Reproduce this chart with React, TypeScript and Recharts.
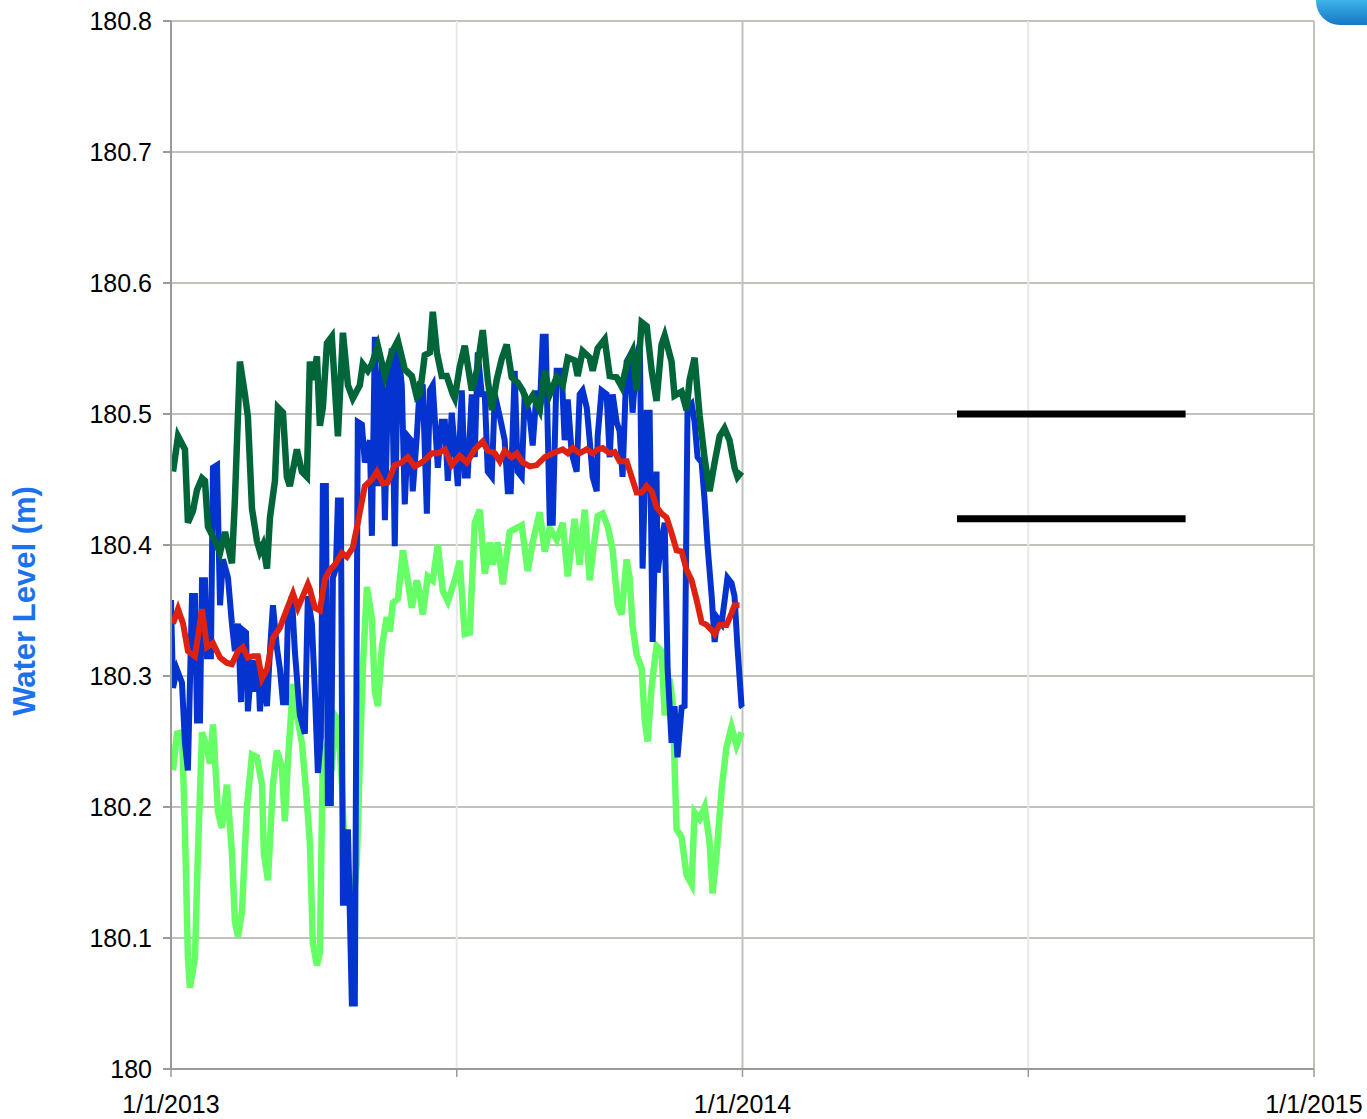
import React from "react";
import { LineChart, Line, XAxis, YAxis, CartesianGrid, ReferenceLine, Label } from "recharts";

// days since 1/1/2013, water level (m)
const dailyLevel: [number, number][] = [
  [0,180.358],[1.3,180.291],[3.8,180.305],[7.0,180.295],[8.9,180.249],[10.8,180.228],[13.4,180.361],[15.3,180.361],[16.6,180.266],[18.5,180.266],
  [19.8,180.373],[21.7,180.373],[23.0,180.315],[25.5,180.315],[26.8,180.459],[29.4,180.461],[31.3,180.354],[33.2,180.389],[36.4,180.375],[38.9,180.340],
  [40.8,180.319],[42.8,180.340],[44.7,180.280],[45.9,180.335],[47.9,180.333],[49.1,180.273],[51.7,180.312],[53.6,180.288],[55.5,180.312],[56.8,180.273],
  [58.7,180.305],[61.3,180.277],[63.2,180.319],[65.1,180.354],[67.6,180.322],[69.6,180.305],[71.5,180.280],[73.4,180.280],[74.7,180.347],[77.2,180.361],
  [79.1,180.319],[82.3,180.270],[85.5,180.256],[87.4,180.361],[90.0,180.340],[91.9,180.288],[93.8,180.226],[95.7,180.253],[97.0,180.445],[98.9,180.445],
  [100.2,180.203],[102.1,180.203],[103.4,180.375],[105.3,180.382],[106.6,180.434],[108.5,180.434],[109.8,180.127],[111.7,180.127],[113.0,180.183],[115.5,180.050],
  [117.4,180.050],[119.3,180.494],[121.9,180.492],[123.8,180.463],[127.0,180.480],[128.3,180.407],[130.2,180.559],[132.1,180.445],[134.7,180.540],[136.6,180.419],
  [138.5,180.515],[141.0,180.550],[142.9,180.399],[144.9,180.550],[147.4,180.522],[149.3,180.431],[151.2,180.483],[153.2,180.480],[154.4,180.441],[157.0,180.483],
  [158.9,180.522],[160.8,180.521],[163.4,180.424],[165.3,180.518],[167.2,180.522],[170.4,180.459],[172.9,180.494],[174.9,180.494],[176.8,180.449],[179.3,180.501],
  [183.2,180.445],[185.7,180.518],[187.6,180.453],[189.5,180.453],[192.1,180.515],[194.0,180.467],[195.9,180.547],[198.5,180.515],[200.4,180.515],[202.3,180.456],
  [204.9,180.452],[206.8,180.515],[210.0,180.498],[213.1,180.480],[215.1,180.441],[217.0,180.441],[219.5,180.533],[221.4,180.456],[224.0,180.452],[225.9,180.515],
  [229.1,180.498],[231.0,180.476],[233.6,180.518],[235.5,180.501],[237.4,180.559],[239.3,180.559],[241.9,180.417],[243.8,180.417],[246.3,180.533],[249.5,180.533],
  [251.4,180.480],[253.4,180.511],[255.9,180.470],[259.1,180.456],[261.0,180.515],[262.9,180.518],[265.5,180.505],[267.4,180.480],[269.3,180.452],[271.9,180.441],
  [272.5,180.483],[275.0,180.518],[278.2,180.515],[280.2,180.467],[282.1,180.515],[284.6,180.494],[286.5,180.487],[288.4,180.452],[291.0,180.540],[292.9,180.544],
  [294.8,180.501],[297.4,180.544],[299.4,180.553],[301.2,180.382],[303.8,180.501],[305.7,180.501],[307.6,180.326],[310.1,180.456],[310.8,180.379],[313.3,180.403],
  [315.3,180.417],[317.2,180.305],[319.7,180.249],[321.6,180.277],[323.5,180.238],[326.1,180.276],[328.0,180.277],[329.9,180.505],[332.5,180.508],[334.4,180.494],
  [336.3,180.467],[338.9,180.463],[340.8,180.434],[342.7,180.399],[345.3,180.361],[347.2,180.326],[349.1,180.344],[351.6,180.340],[353.5,180.357],[355.4,180.375],
  [358.0,180.371],[359.9,180.361],[361.8,180.322],[364.4,180.277],[365,180.276],
];

const maxLevel: [number, number][] = [
  [1.3,180.456],[4.5,180.483],[8.9,180.473],[10.8,180.417],[14.0,180.426],[16.6,180.442],[19.8,180.451],[21.7,180.449],[23.6,180.414],[28.1,180.403],
  [31.3,180.394],[34.5,180.410],[36.4,180.399],[38.9,180.386],[40.8,180.434],[44.0,180.540],[47.2,180.515],[49.1,180.498],[51.7,180.428],[54.9,180.403],
  [56.8,180.395],[58.7,180.400],[61.3,180.382],[63.2,180.421],[66.4,180.449],[68.3,180.505],[71.5,180.501],[74.0,180.452],[75.9,180.445],[80.4,180.473],
  [83.6,180.456],[86.8,180.452],[88.7,180.540],[90.6,180.526],[93.2,180.544],[95.1,180.491],[97.0,180.505],[99.6,180.554],[102.7,180.559],[106.6,180.483],
  [109.8,180.562],[113.0,180.522],[116.1,180.512],[120.6,180.522],[122.5,180.538],[125.7,180.533],[128.3,180.538],[132.1,180.552],[136.6,180.529],[141.0,180.547],
  [144.9,180.556],[149.3,180.534],[153.8,180.529],[157.0,180.513],[158.9,180.515],[162.1,180.545],[165.3,180.547],[167.2,180.578],[169.8,180.547],[172.9,180.529],
  [176.1,180.529],[180.0,180.515],[181.2,180.512],[184.4,180.536],[187.6,180.552],[192.1,180.518],[195.3,180.533],[199.1,180.564],[202.3,180.526],[204.9,180.503],
  [208.0,180.526],[211.2,180.542],[214.4,180.553],[217.6,180.528],[221.4,180.524],[224.6,180.518],[227.8,180.508],[231.0,180.514],[235.5,180.503],[238.7,180.533],
  [241.9,180.515],[246.3,180.528],[250.2,180.522],[253.4,180.543],[257.8,180.541],[259.7,180.529],[262.9,180.548],[267.4,180.543],[269.3,180.533],[272.5,180.550],
  [277.0,180.557],[280.2,180.529],[284.6,180.528],[287.8,180.521],[291.6,180.540],[294.8,180.548],[297.4,180.518],[300.6,180.570],[303.8,180.567],[307.0,180.533],
  [310.1,180.510],[313.3,180.553],[315.3,180.560],[319.7,180.540],[321.6,180.514],[326.1,180.517],[329.3,180.503],[331.2,180.526],[334.4,180.543],[337.6,180.499],
  [340.8,180.466],[344.0,180.441],[347.2,180.463],[350.4,180.483],[353.5,180.489],[356.7,180.480],[359.9,180.459],[361.8,180.452],[364.4,180.456],
];

const minLevel: [number, number][] = [
  [1.3,180.228],[3.8,180.256],[7.0,180.257],[8.9,180.183],[10.8,180.085],[12.1,180.062],[15.3,180.085],[17.2,180.165],[19.8,180.257],[23.0,180.245],
  [24.9,180.233],[26.8,180.263],[30.0,180.196],[32.5,180.184],[35.7,180.217],[38.9,180.165],[40.8,180.113],[42.8,180.101],[45.3,180.120],[48.5,180.200],
  [51.7,180.240],[54.9,180.238],[58.1,180.217],[59.3,180.165],[61.9,180.144],[65.1,180.217],[67.6,180.243],[70.8,180.231],[72.7,180.189],[74.7,180.235],
  [77.9,180.294],[80.4,180.270],[83.6,180.249],[86.2,180.213],[88.7,180.173],[90.6,180.096],[93.2,180.079],[95.1,180.089],[97.0,180.242],[100.2,180.249],
  [102.7,180.228],[104.7,180.270],[106.6,180.267],[109.1,180.218],[111.0,180.165],[113.0,180.131],[116.1,180.120],[118.7,180.158],[120.6,180.235],[122.5,180.305],
  [125.1,180.368],[128.3,180.344],[130.2,180.288],[132.1,180.277],[134.7,180.322],[137.8,180.345],[139.8,180.334],[141.7,180.356],[144.9,180.359],[148.1,180.396],
  [151.2,180.373],[153.8,180.352],[157.0,180.373],[158.9,180.363],[160.8,180.347],[164.0,180.376],[167.2,180.373],[170.4,180.400],[173.6,180.365],[176.8,180.357],
  [179.3,180.366],[181.2,180.373],[184.4,180.388],[187.6,180.332],[190.8,180.333],[194.0,180.417],[197.2,180.427],[200.4,180.378],[203.6,180.402],[205.5,180.385],
  [208.7,180.402],[211.9,180.370],[216.3,180.410],[220.8,180.413],[224.0,180.415],[227.8,180.380],[231.0,180.402],[235.5,180.425],[238.7,180.395],[241.9,180.413],
  [246.3,180.404],[250.2,180.417],[253.4,180.376],[257.8,180.420],[261.0,180.385],[264.2,180.427],[267.4,180.373],[270.6,180.405],[272.5,180.422],[275.7,180.424],
  [278.9,180.414],[282.1,180.396],[285.3,180.354],[287.8,180.347],[291.0,180.389],[292.9,180.375],[294.8,180.338],[297.4,180.316],[300.6,180.306],[302.5,180.267],
  [304.4,180.250],[307.0,180.292],[310.1,180.323],[313.3,180.319],[315.3,180.270],[318.4,180.298],[320.4,180.280],[322.9,180.183],[326.1,180.177],[329.3,180.148],
  [332.5,180.141],[334.4,180.196],[337.6,180.191],[340.8,180.200],[344.0,180.173],[345.9,180.134],[348.5,180.165],[351.7,180.214],[354.8,180.246],[358.0,180.261],
  [361.2,180.247],[364.4,180.257],
];

const meanLevel: [number, number][] = [
  [1.3,180.340],[4.5,180.351],[7.7,180.340],[10.8,180.319],[15.3,180.315],[19.8,180.351],[23.0,180.322],[26.8,180.325],[31.3,180.314],[35.7,180.310],
  [38.9,180.309],[42.8,180.319],[45.9,180.322],[49.1,180.314],[52.3,180.315],[55.5,180.315],[58.1,180.298],[61.3,180.305],[65.1,180.329],[69.6,180.337],
  [74.0,180.351],[77.9,180.363],[81.0,180.352],[84.2,180.361],[87.4,180.370],[88.7,180.366],[91.9,180.352],[95.1,180.350],[98.3,180.374],[101.5,180.381],
  [104.7,180.385],[109.1,180.394],[112.3,180.391],[116.1,180.398],[119.3,180.417],[123.8,180.445],[128.3,180.450],[131.5,180.456],[135.3,180.447],[138.5,180.448],
  [142.9,180.461],[147.4,180.463],[151.2,180.467],[155.7,180.460],[160.2,180.463],[164.0,180.467],[166.6,180.470],[170.4,180.470],[174.9,180.473],[179.3,180.461],
  [184.4,180.468],[188.9,180.463],[194.0,180.473],[199.1,180.479],[202.3,180.472],[206.8,180.470],[210.0,180.464],[213.1,180.472],[217.6,180.467],[220.8,180.470],
  [224.6,180.463],[229.1,180.460],[233.6,180.461],[238.7,180.467],[243.8,180.470],[250.2,180.473],[253.4,180.470],[256.5,180.474],[261.0,180.470],[265.5,180.473],
  [269.3,180.470],[272.5,180.473],[275.7,180.474],[280.2,180.470],[283.3,180.471],[286.5,180.464],[291.0,180.464],[294.2,180.452],[297.4,180.440],[300.6,180.440],
  [303.8,180.445],[307.0,180.441],[310.1,180.429],[313.3,180.424],[316.5,180.421],[319.7,180.409],[322.9,180.396],[326.1,180.395],[329.3,180.381],[332.5,180.373],
  [335.7,180.358],[338.9,180.341],[342.1,180.339],[345.3,180.335],[347.2,180.332],[350.4,180.339],[354.8,180.339],[358.0,180.348],[359.9,180.354],[363.1,180.354],
];

const upperTarget: [number, number][] = [[502, 180.5], [648, 180.5]];
const lowerTarget: [number, number][] = [[502, 180.42], [648, 180.42]];

const yTicks = [180, 180.1, 180.2, 180.3, 180.4, 180.5, 180.6, 180.7, 180.8];
const xTicks = [0, 182.5, 365, 547.5, 730];
const xTickLabels: Record<string, string> = { "0": "1/1/2013", "365": "1/1/2014", "730": "1/1/2015" };
const yAxisTitle = "Water Level (m)";

const toRows = (s: [number, number][]) => s.map(([d, v]) => ({ d, v }));

const FONT = "'Liberation Sans', Arial, Helvetica, sans-serif";
const AXIS = "#9a9a96";
const GRID = "#c2c2bc";

const XTick = (props: any) => {
  const { x, y, payload } = props;
  const label = xTickLabels[String(payload.value)];
  if (!label) return null;
  return (
    <text x={x} y={y} dy="0.71em" textAnchor="middle" fontSize={25} fontFamily={FONT} fill="#000">
      {label}
    </text>
  );
};

const YTitle = () => (
  <text
    x={16}
    y={593}
    transform="rotate(-90, 16, 593)"
    textAnchor="middle"
    dominantBaseline="central"
    fontSize={31}
    fontWeight="bold"
    fontFamily={FONT}
    fill="#1a72ee"
  >
    {yAxisTitle}
  </text>
);

export default function App() {
  return (
    <div style={{ position: "relative", width: 1367, height: 1119, paddingTop: 8, paddingLeft: 8, boxSizing: "border-box", overflow: "hidden" }}>
      <style>{"body{margin:0}"}</style>
      <LineChart width={1359} height={1111} margin={{ top: 13, right: 53, bottom: 0, left: 0 }}>
        <CartesianGrid horizontal vertical={false} stroke={GRID} strokeWidth={2} />
        <XAxis
          dataKey="d"
          type="number"
          domain={[0, 730]}
          ticks={xTicks}
          interval={0}
          height={50}
          tick={<XTick />}
          tickSize={8}
          tickMargin={18}
          axisLine={{ stroke: AXIS, strokeWidth: 2 }}
          tickLine={{ stroke: AXIS, strokeWidth: 1.5 }}
          allowDataOverflow
        />
        <YAxis
          type="number"
          domain={[180, 180.8]}
          ticks={yTicks}
          interval={0}
          width={163}
          tickSize={8}
          tickMargin={11}
          tickFormatter={(v: number) => String(Number(v.toFixed(1)))}
          tick={{ fontSize: 25, fontFamily: FONT, fill: "#000" }}
          axisLine={{ stroke: AXIS, strokeWidth: 2 }}
          tickLine={{ stroke: AXIS, strokeWidth: 2 }}
          allowDataOverflow
          label={<Label content={<YTitle />} />}
        />
        <ReferenceLine x={182.5} stroke="#e8e8e8" strokeWidth={2} />
        <ReferenceLine x={547.5} stroke="#e8e8e8" strokeWidth={2} />
        <ReferenceLine x={365} stroke={GRID} strokeWidth={2} />
        <ReferenceLine x={730} stroke={GRID} strokeWidth={2} />
        <Line data={toRows(minLevel)} dataKey="v" stroke="#66ff66" strokeWidth={6.5} dot={false} isAnimationActive={false} />
        <Line data={toRows(dailyLevel)} dataKey="v" stroke="#0433d0" strokeWidth={6} dot={false} isAnimationActive={false} />
        <Line data={toRows(maxLevel)} dataKey="v" stroke="#00663a" strokeWidth={6.5} dot={false} isAnimationActive={false} />
        <Line data={toRows(meanLevel)} dataKey="v" stroke="#dd2211" strokeWidth={6} dot={false} isAnimationActive={false} />
        <Line data={toRows(upperTarget)} dataKey="v" stroke="#000" strokeWidth={7} dot={false} isAnimationActive={false} />
        <Line data={toRows(lowerTarget)} dataKey="v" stroke="#000" strokeWidth={7} dot={false} isAnimationActive={false} />
      </LineChart>
      <div
        style={{
          position: "absolute",
          left: 1316,
          top: 0,
          width: 60,
          height: 25,
          borderBottomLeftRadius: 24,
          background: "linear-gradient(#3cb4ea, #1876c4)",
        }}
      />
    </div>
  );
}
